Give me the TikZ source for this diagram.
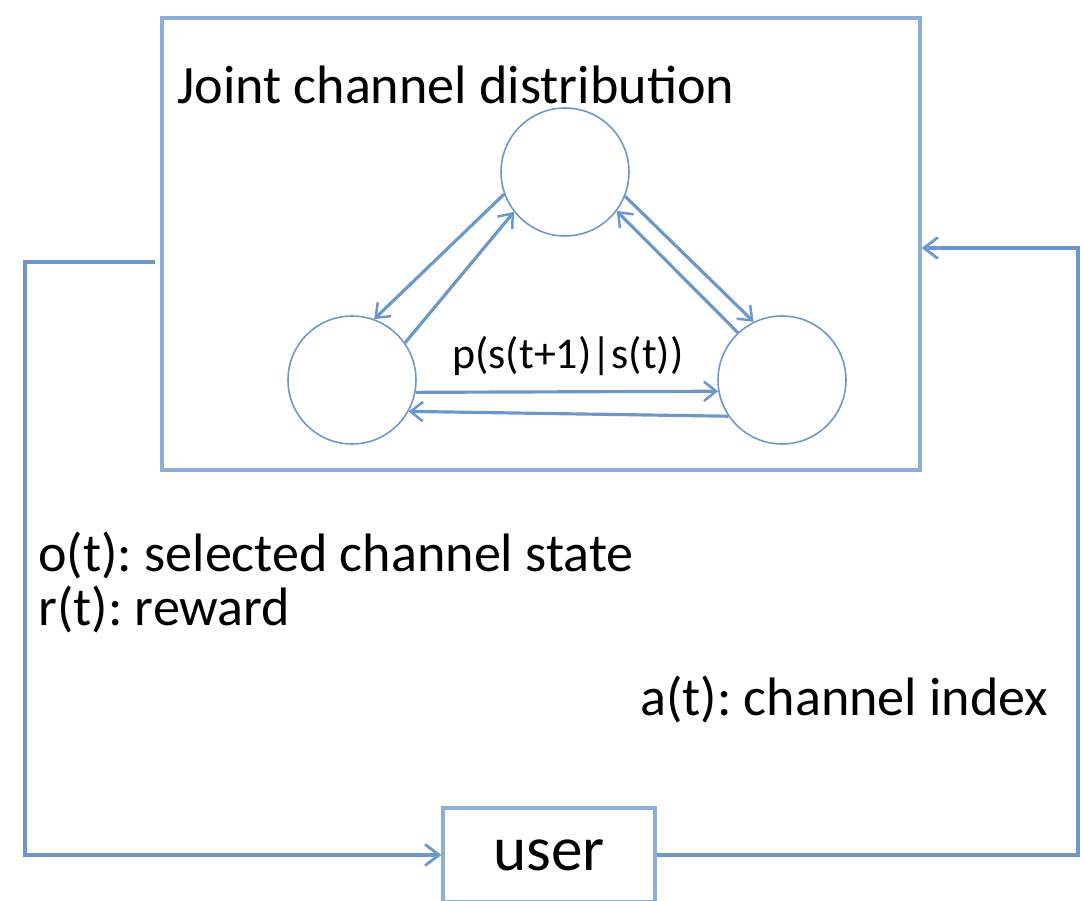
\documentclass[tikz,border=0pt]{standalone}
\usepackage{fontspec}
\setmainfont{Carlito}
\usetikzlibrary{arrows.meta}
\definecolor{linecol}{RGB}{108,151,204}
\definecolor{boxcol}{RGB}{140,174,216}
\frenchspacing
\begin{document}
\begin{tikzpicture}[x=0.02cm,y=-0.02cm]
\tikzstyle{every node}+=[inner sep=0pt]
\tikzstyle{state}=[circle,draw=linecol,line width=0.9pt,minimum size=2.56cm]
\tikzstyle{trans}=[draw=linecol,line width=1.8pt,-{Straight Barb[length=7pt,width=11pt,line width=1.4pt]}]
\tikzstyle{loop}=[draw=linecol,line width=2.2pt,-{Straight Barb[length=8pt,width=12pt,line width=1.6pt]}]
\tikzstyle{big}=[font=\fontsize{30.8}{31.3}\selectfont]
\clip (0,0) rectangle (1083,901);
\node [draw=boxcol,line width=1.8pt,minimum width=15.16cm,minimum height=9.04cm] (joint) at (541,244) {};
\node [big,anchor=base west] (title) at (177,104) {Joint channel distribution};
\node [state] (top) at (565,172) {};
\node [state] (left) at (352,380) {};
\node [state] (right) at (782,380) {};
\node [font=\fontsize{25}{28}\selectfont] (prob) at (568,356) {p(s(t+1)|s(t))};
\draw [trans] (top.200) -- (left.70);
\draw [trans] (left.35) -- (top.218);
\draw [trans] (top.338) -- (right.116);
\draw [trans] (right.133) -- (top.323);
\draw [trans] (left.349) -- (right.190);
\draw [trans] (right.214) -- (left.331);
\node [draw=boxcol,line width=1.8pt,minimum width=4.24cm,minimum height=1.88cm,font=\fontsize{36}{40}\selectfont] (user) at (549,855) {user};
\node [big,anchor=base west,align=left] (obs) at (38,626) {o(t): selected channel state\\r(t): reward};
\node [big,anchor=base west] (act) at (640,716) {a(t): channel index};
\coordinate (obsout) at (155,262);
\coordinate (obscorner) at (25,262);
\coordinate (actcorner) at (1078,248);
\draw [loop] (obsout) -- (obscorner) |- (user.west);
\draw [loop] (user.east) -| (actcorner) -- (joint.east |- actcorner);
\end{tikzpicture}
\end{document}
